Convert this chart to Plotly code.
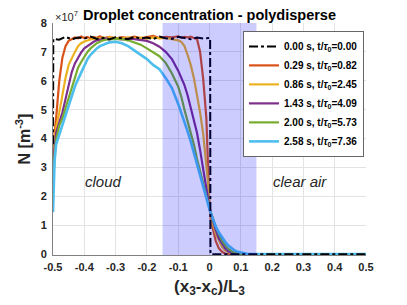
import plotly.graph_objects as go

# ---------------- data ----------------
x_grid = [-0.5, -0.495, -0.49, -0.485, -0.48, -0.47, -0.46, -0.45, -0.44, -0.43,
          -0.42, -0.41, -0.40, -0.39, -0.38, -0.37, -0.36, -0.35, -0.34, -0.33,
          -0.32, -0.30, -0.28, -0.26, -0.24, -0.22, -0.20, -0.18, -0.16, -0.14,
          -0.12, -0.10, -0.09, -0.08, -0.07, -0.06, -0.05, -0.04, -0.03, -0.02,
          -0.01, -0.005, 0.0, 0.005, 0.01, 0.02, 0.03, 0.04, 0.05, 0.06,
          0.07, 0.08, 0.09, 0.10, 0.11, 0.12, 0.13, 0.14, 0.15, 0.2,
          0.3, 0.4, 0.5]

n_red = [3.0, 4.2, 4.7, 5.3, 6.0, 6.8, 7.2, 7.38, 7.45, 7.5,
         7.47, 7.53, 7.48, 7.52, 7.46, 7.51, 7.49, 7.54, 7.47, 7.5,
         7.52, 7.46, 7.51, 7.48, 7.53, 7.47, 7.5, 7.55, 7.48, 7.52,
         7.5, 7.54, 7.49, 7.52, 7.5, 7.53, 7.48, 7.45, 7.0, 6.05,
         4.7, 3.4, 1.6, 1.15, 0.9, 0.45, 0.2, 0.08, 0.02, 0.0,
         0.0, 0.0, 0.0, 0.0, 0.0, 0.0, 0.0, 0.0, 0.0, 0.0,
         0.0, 0.0, 0.0]

n_orange = [2.9, 4.0, 4.4, 4.6, 4.9, 5.5, 6.1, 6.55, 6.8, 7.0,
            7.2, 7.3, 7.36, 7.4, 7.43, 7.45, 7.48, 7.46, 7.5, 7.47,
            7.51, 7.48, 7.46, 7.5, 7.47, 7.49, 7.46, 7.5, 7.47, 7.48,
            7.45, 7.4, 7.35, 7.2, 6.9, 6.55, 6.1, 5.55, 4.9, 4.15,
            3.2, 2.5, 1.6, 1.3, 1.05, 0.7, 0.45, 0.25, 0.13, 0.06,
            0.02, 0.0, 0.0, 0.0, 0.0, 0.0, 0.0, 0.0, 0.0, 0.0,
            0.0, 0.0, 0.0]

n_purple = [2.6, 3.7, 4.2, 4.4, 4.55, 4.9, 5.35, 5.8, 6.3, 6.6,
            6.8, 6.98, 7.12, 7.2, 7.28, 7.35, 7.4, 7.43, 7.45, 7.47,
            7.44, 7.46, 7.43, 7.46, 7.44, 7.42, 7.38, 7.3, 7.18, 7.0,
            6.75, 6.35, 6.1, 5.85, 5.5, 5.05, 4.6, 4.2, 3.6, 2.9,
            2.2, 1.9, 1.6, 1.4, 1.2, 0.85, 0.55, 0.35, 0.2, 0.1,
            0.05, 0.02, 0.0, 0.0, 0.0, 0.0, 0.0, 0.0, 0.0, 0.0,
            0.0, 0.0, 0.0]

n_green = [2.3, 3.4, 3.95, 4.25, 4.45, 4.7, 5.05, 5.45, 5.8, 6.15,
           6.45, 6.65, 6.85, 7.0, 7.12, 7.22, 7.3, 7.35, 7.4, 7.42,
           7.44, 7.45, 7.44, 7.4, 7.32, 7.25, 7.12, 6.98, 6.85, 6.62,
           6.25, 5.8, 5.45, 5.0, 4.6, 4.2, 3.8, 3.3, 2.85, 2.4,
           2.0, 1.8, 1.6, 1.42, 1.25, 0.95, 0.68, 0.46, 0.3, 0.18,
           0.1, 0.05, 0.02, 0.0, 0.0, 0.0, 0.0, 0.0, 0.0, 0.0,
           0.0, 0.0, 0.0]

n_blue = [1.45, 3.2, 3.8, 3.97, 4.15, 4.45, 4.75, 5.15, 5.5, 5.8,
          6.05, 6.3, 6.55, 6.75, 6.9, 7.02, 7.12, 7.2, 7.25, 7.3,
          7.33, 7.35, 7.3, 7.2, 7.05, 6.9, 6.75, 6.55, 6.4, 6.1,
          5.75, 5.2, 4.9, 4.55, 4.25, 3.9, 3.5, 3.1, 2.7, 2.3,
          1.95, 1.75, 1.55, 1.4, 1.25, 0.95, 0.75, 0.58, 0.43, 0.3,
          0.2, 0.13, 0.08, 0.05, 0.03, 0.01, 0.0, 0.0, 0.0, 0.0,
          0.0, 0.0, 0.0]

x_black = [-0.5, -0.499, -0.48, -0.46, -0.44, -0.42, -0.40, -0.38, -0.36, -0.34,
           -0.32, -0.30, -0.28, -0.26, -0.24, -0.22, -0.20, -0.18, -0.16, -0.14,
           -0.12, -0.10, -0.08, -0.06, -0.04, -0.02, 0.002, 0.003, 0.5]
n_black = [3.8, 7.45, 7.42, 7.52, 7.44, 7.5, 7.46, 7.53, 7.45, 7.49,
           7.43, 7.51, 7.47, 7.44, 7.52, 7.46, 7.5, 7.44, 7.53, 7.47,
           7.45, 7.52, 7.48, 7.44, 7.5, 7.46, 7.48, 0.0, 0.0]

series_names = ["0.00 s, t/<i>τ</i><sub>0</sub>=0.00",
                "0.29 s, t/<i>τ</i><sub>0</sub>=0.82",
                "0.86 s, t/<i>τ</i><sub>0</sub>=2.45",
                "1.43 s, t/<i>τ</i><sub>0</sub>=4.09",
                "2.00 s, t/<i>τ</i><sub>0</sub>=5.73",
                "2.58 s, t/<i>τ</i><sub>0</sub>=7.36"]

x_tickvals = [-0.5, -0.4, -0.3, -0.2, -0.1, 0.0, 0.1, 0.2, 0.3, 0.4, 0.5]
x_ticktext = ["-0.5", "-0.4", "-0.3", "-0.2", "-0.1", "0", "0.1", "0.2", "0.3", "0.4", "0.5"]
y_tickvals = [0, 1, 2, 3, 4, 5, 6, 7, 8]
y_ticktext = ["0", "1", "2", "3", "4", "5", "6", "7", "8"]

shade_x = [-0.15, 0.15]

# ---------------- figure ----------------
# (page body has an 8px default margin; margins below compensate for it)
FONT = "Liberation Sans, Arial, sans-serif"
colors = ["#D95319", "#EDB120", "#7E2F8E", "#77AC30", "#4DBEEE"]
ys = [n_red, n_orange, n_purple, n_green, n_blue]

fig = go.Figure()
for i, (yv, c) in enumerate(zip(ys, colors)):
    fig.add_trace(go.Scatter(x=x_grid, y=yv, mode="lines", name=series_names[i + 1],
                             line=dict(color=c, width=2.2 if i < 4 else 2.6),
                             legendrank=i + 2))
fig.add_trace(go.Scatter(x=x_black, y=n_black, mode="lines", name=series_names[0],
                         line=dict(color="#000000", width=2, dash="dashdot"),
                         legendrank=1))

fig.add_shape(type="rect", xref="x", yref="paper", x0=shade_x[0], x1=shade_x[1],
              y0=0, y1=1, fillcolor="rgba(0,0,255,0.2)", line=dict(width=0),
              layer="above")

fig.add_annotation(x=-0.34, y=2.5, text="<i>cloud</i>", showarrow=False,
                   font=dict(family=FONT, size=15, color="#262626"))
fig.add_annotation(x=0.29, y=2.5, text="<i>clear air</i>", showarrow=False,
                   font=dict(family=FONT, size=15, color="#262626"))
fig.add_annotation(xref="paper", yref="paper", x=0, y=1, xanchor="left", yanchor="middle",
                   yshift=7, text="×10<sup>7</sup>", showarrow=False,
                   font=dict(family=FONT, size=11, color="#262626"))

fig.update_layout(
    width=407, height=305,
    margin=dict(l=45, r=49, t=15, b=58),
    paper_bgcolor="white", plot_bgcolor="white",
    title=dict(text="<b>Droplet concentration - polydisperse</b>",
               x=0.5, xref="paper", y=1 - 7 / 305, yref="container",
               xanchor="center", yanchor="middle",
               font=dict(family=FONT, size=14.5, color="#000000")),
    showlegend=True,
    legend=dict(x=0.607, y=0.966, xanchor="left", yanchor="top",
                bgcolor="white", bordercolor="#666666", borderwidth=1,
                font=dict(family=FONT, size=10, color="#000000", weight="bold"),
                itemwidth=30, tracegroupgap=0),
    font=dict(family=FONT),
)
fig.update_xaxes(range=[-0.5, 0.5], tickvals=x_tickvals, ticktext=x_ticktext,
                 showgrid=True, gridcolor="#e3e3e3", gridwidth=1, automargin=False,
                 showline=True, linecolor="#808080", linewidth=1, zeroline=False,
                 tickfont=dict(family=FONT, size=11, color="#262626", weight="bold"),
                 ticks="", ticklabelstandoff=2,
                 title=dict(text="<b>(x<sub>3</sub>-x<sub>c</sub>)/L<sub>3</sub></b>",
                            font=dict(family=FONT, size=17, color="#262626"), standoff=7))
fig.update_yaxes(range=[-0.03, 8], tickvals=y_tickvals, ticktext=y_ticktext,
                 showgrid=True, gridcolor="#e3e3e3", gridwidth=1, automargin=False,
                 showline=True, linecolor="#808080", linewidth=1, zeroline=False,
                 tickfont=dict(family=FONT, size=11, color="#262626", weight="bold"),
                 ticks="", ticklabelstandoff=3,
                 title=dict(text="<b>N [m<sup>-3</sup>]</b>",
                            font=dict(family=FONT, size=16, color="#262626"), standoff=6))

fig.write_html("out.html")
